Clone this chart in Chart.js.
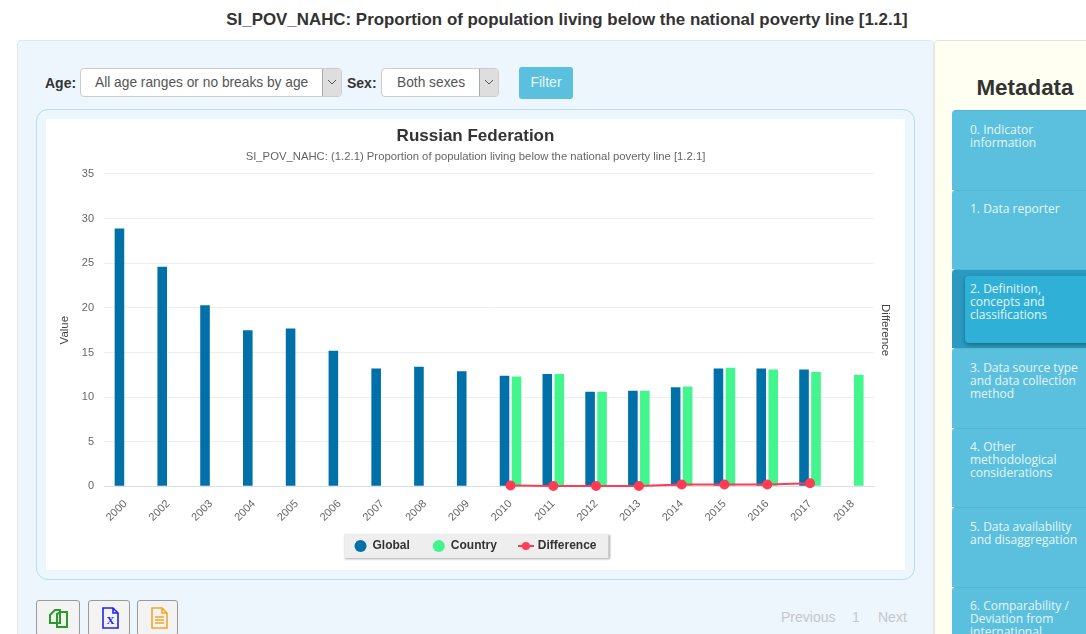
<!DOCTYPE html>
<html>
<head>
<meta charset="utf-8">
<script src="https://cdn.jsdelivr.net/npm/chart.js@4/dist/chart.umd.min.js"></script>
<style>
html, body { margin: 0; padding: 0; background: #fff; overflow: hidden; }
body { width: 1086px; height: 634px; position: relative; font-family: "Liberation Sans", Arial, sans-serif; color: #333; }
.abs { position: absolute; box-sizing: border-box; }
#pageTitle { left: 0; top: 10px; width: 1134px; text-align: center; font-size: 16.9px; font-weight: bold; line-height: 20px; }
#leftPanel { left: 17px; top: 40px; width: 917px; height: 620px; background: #eef6fd; border: 1px solid #e0e7ec; border-radius: 4px; }
#rightPanel { left: 934px; top: 40px; width: 170px; height: 620px; background: #fffff2; border: 1px solid #e4e4e0; border-radius: 4px; }
#metaTitle { left: 934px; top: 75px; width: 182px; text-align: center; font-size: 22.4px; font-weight: bold; line-height: 26px; }
.lbl { font-size: 14px; font-weight: bold; line-height: 20px; top: 73px; }
.sel { top: 68px; height: 29px; background: #fff; border: 1px solid #ccc; border-radius: 4px; font-size: 13.75px; color: #555; line-height: 27px; }
.sel .arrow { position: absolute; right: 0; top: 0; width: 18px; height: 27px; background: #dedede; border-left: 1px solid #aaa; border-radius: 0 3px 3px 0; }
.sel svg { position: absolute; left: 4px; top: 10px; }
#filter { left: 519px; top: 67px; width: 54px; height: 32px; background: #5bc0de; border-radius: 3px; color: #eaf7fb; font-size: 14px; line-height: 31px; text-align: center; }
#wrap { left: 36px; top: 109px; width: 879px; height: 471px; border: 1px solid #b9dcea; border-radius: 12px; background: #eef6fd; }
#card { left: 46px; top: 119px; width: 859px; height: 451px; background: #fff; }
#card canvas { display: block; }
.btn { top: 600px; height: 36px; background: #f3f3f3; border: 1px solid #999; border-radius: 3px; }
.btn svg { position: absolute; left: 10px; top: 5px; }
.page { top: 609px; font-size: 14px; line-height: 16px; color: #c3c7cb; }
.tab { left: 952px; width: 150px; background: #5bc0de; border-top: 1px solid #52b6d4; border-radius: 4px 0 0 0; color: #e6f5fa; font-family: "Open Sans", sans-serif; font-size: 12px; line-height: 13px; padding: 12px 10px 0 18px; }
.tab.on { background: #2a9ac0; padding: 0; }
.tab.on div { position: absolute; left: 13px; top: 6px; width: 137px; height: 67px; background: #2fb0d7; border-radius: 4px; padding: 6px 50px 0 5px; box-sizing: border-box; box-shadow: 0 2px 4px rgba(0,0,0,.3); }
</style>
</head>
<body>
<div class="abs" id="pageTitle">SI_POV_NAHC: Proportion of population living below the national poverty line [1.2.1]</div>
<div class="abs" id="leftPanel"></div>
<div class="abs" id="rightPanel"></div>
<div class="abs" id="metaTitle">Metadata</div>

<div class="abs lbl" style="left:45px">Age:</div>
<div class="abs sel" style="left:80px;width:262px;padding-left:14px">All age ranges or no breaks by age<span class="arrow"><svg width="10" height="7"><path d="M1 1l4 4 4-4" fill="none" stroke="#555"/></svg></span></div>
<div class="abs lbl" style="left:347px">Sex:</div>
<div class="abs sel" style="left:381px;width:118px;padding-left:15px">Both sexes<span class="arrow"><svg width="10" height="7"><path d="M1 1l4 4 4-4" fill="none" stroke="#555"/></svg></span></div>
<div class="abs" id="filter">Filter</div>

<div class="abs" id="wrap"></div>
<div class="abs" id="card"><canvas id="myChart_poverty" width="859" height="451"></canvas></div>

<div class="abs btn" style="left:36px;width:44px"><svg width="24" height="24"><path d="M3 9l5-5h5v13H3zM10 8l4-2h6v15H10z" fill="none" stroke="#2a9a2a" stroke-width="2"/></svg></div>
<div class="abs btn" style="left:88px;width:42px"><svg width="24" height="24"><path d="M4 2h10l5 5v15H4zM14 2v5h5" fill="none" stroke="#2222ee" stroke-width="1.6"/><text x="7.5" y="18" font-size="11" font-weight="bold" font-family="Liberation Serif" fill="#2222ee">X</text></svg></div>
<div class="abs btn" style="left:137px;width:41px"><svg width="24" height="24"><path d="M4 2h10l5 5v15H4zM14 2v5h5M7 11h9M7 14h9M7 17h9" fill="none" stroke="#f5a623" stroke-width="1.6"/></svg></div>

<div class="abs page" style="left:781px">Previous</div>
<div class="abs page" style="left:852px">1</div>
<div class="abs page" style="left:878px">Next</div>

<div class="abs tab" style="top:110px;height:80px">0. Indicator information</div>
<div class="abs tab" style="top:190px;height:79px;padding-top:11px">1. Data reporter</div>
<div class="abs tab on" style="top:269px;height:79px"><div>2. Definition, concepts and classifications</div></div>
<div class="abs tab" style="top:348px;height:80px">3. Data source type and data collection method</div>
<div class="abs tab" style="top:428px;height:79px;padding-top:11px">4. Other methodological considerations</div>
<div class="abs tab" style="top:507px;height:80px">5. Data availability and disaggregation</div>
<div class="abs tab" style="top:587px;height:60px;padding-top:11px">6. Comparability / Deviation from international standards</div>

<script>
const years = ['2000', '2002', '2003', '2004', '2005', '2006', '2007', '2008', '2009', '2010', '2011', '2012', '2013', '2014', '2015', '2016', '2017', '2018'];
const globalValues = [28.9, 24.6, 20.3, 17.5, 17.7, 15.2, 13.2, 13.4, 12.9, 12.4, 12.6, 10.6, 10.7, 11.1, 13.2, 13.2, 13.1, null];
const countryValues = [null, null, null, null, null, null, null, null, null, 12.3, 12.6, 10.6, 10.7, 11.2, 13.3, 13.1, 12.8, 12.5];
const differenceValues = [null, null, null, null, null, null, null, null, null, 0.1, 0.05, 0.05, 0.05, 0.2, 0.2, 0.2, 0.35, null];

// legend icon for the line series, a dash with a dot on it
const lineIcon = document.createElement('canvas');
lineIcon.width = 16;
lineIcon.height = 10;
const iconCtx = lineIcon.getContext('2d');
iconCtx.fillStyle = '#ff3b55';
iconCtx.fillRect(0, 4, 16, 2);
iconCtx.beginPath();
iconCtx.arc(8, 5, 4, 0, Math.PI * 2);
iconCtx.fill();

// lifts the legend inside its slot and puts a grey box behind the items
const legendBox = {
	id: 'legendBox',
	afterLayout(chart) {
		chart.legend.top -= 10;
		chart.legend.bottom -= 10;
	},
	beforeDraw(chart) {
		const l = chart.legend;
		const pad = l.options.labels.padding;
		const w = l.lineWidths[0] - pad;
		const c = chart.ctx;
		c.save();
		c.shadowColor = 'rgba(0,0,0,0.35)';
		c.shadowOffsetX = 1;
		c.shadowOffsetY = 1;
		c.shadowBlur = 2;
		c.fillStyle = '#eeeeee';
		c.fillRect((l.left + l.right) / 2 - w / 2 - 10, l.top + pad - 6, w + 22, 24);
		c.restore();
	}
};

const ctx = document.getElementById('myChart_poverty').getContext('2d');
const myChart_poverty = new Chart(ctx, {
	type: 'bar',
	data: {
		labels: years,
		datasets: [{
			label: 'Global',
			data: globalValues,
			backgroundColor: '#0070a8',
			barPercentage: 0.8,
			categoryPercentage: 0.56,
			order: 1,
		}, {
			label: 'Country',
			data: countryValues,
			backgroundColor: '#42f58c',
			barPercentage: 0.8,
			categoryPercentage: 0.56,
			order: 1,
		}, {
			type: 'line',
			label: 'Difference',
			data: differenceValues,
			yAxisID: 'y2',
			borderColor: '#ff3b55',
			backgroundColor: '#ff3b55',
			borderWidth: 2,
			pointRadius: 4,
			pointStyle: 'circle',
			tension: 0,
			clip: false,
			order: 0,
		}]
	},
	options: {
		responsive: false,
		animation: false,
		layout: {
			padding: { left: 9, right: 9, top: 7, bottom: -2 }
		},
		scales: {
			x: {
				grid: { display: false },
				border: { color: '#d8dfe9', width: 1 },
				ticks: {
					color: '#666',
					font: { size: 11, family: 'Liberation Sans' },
					maxRotation: 45,
					minRotation: 45,
					autoSkip: false,
				},
			},
			y: {
				min: 0,
				max: 35,
				grid: { color: '#eeeeee', drawTicks: false },
				border: { display: false },
				ticks: {
					stepSize: 5,
					padding: 10,
					color: '#666',
					font: { size: 11, family: 'Liberation Sans' },
				},
				title: {
					display: true,
					text: 'Value',
					color: '#444',
					padding: { top: 3, bottom: 0 },
					font: { size: 11.5, family: 'Liberation Sans' },
				},
			},
			y2: {
				position: 'right',
				min: 0,
				max: 35,
				grid: { display: false, drawTicks: false },
				border: { display: false },
				ticks: { display: false },
				title: {
					display: true,
					text: 'Difference',
					color: '#444',
					padding: { top: 4, bottom: 4 },
					font: { size: 11.5, family: 'Liberation Sans' },
				},
			},
		},
		plugins: {
			title: {
				display: true,
				text: 'Russian Federation',
				color: '#333',
				font: { size: 17, weight: 'bold', family: 'Liberation Sans' },
				padding: { top: 0, bottom: 4 },
			},
			subtitle: {
				display: true,
				text: 'SI_POV_NAHC: (1.2.1) Proportion of population living below the national poverty line [1.2.1]',
				color: '#666',
				font: { size: 11.3, family: 'Liberation Sans' },
				padding: { top: 0, bottom: 10 },
			},
			legend: {
				position: 'bottom',
				labels: {
					usePointStyle: true,
					boxHeight: 8.5,
					color: '#333',
					padding: 23,
					font: { size: 12, weight: 'bold', family: 'Liberation Sans' },
					generateLabels(chart) {
						return chart.data.datasets.map((d, i) => ({
							text: d.label,
							fillStyle: d.backgroundColor,
							strokeStyle: d.backgroundColor,
							fontColor: '#333',
							lineWidth: 0,
							pointStyle: d.type === 'line' ? lineIcon : 'circle',
							datasetIndex: i,
						}));
					},
				},
			},
			tooltip: { enabled: false },
		}
	},
	plugins: [legendBox]
});
</script>
</body>
</html>
